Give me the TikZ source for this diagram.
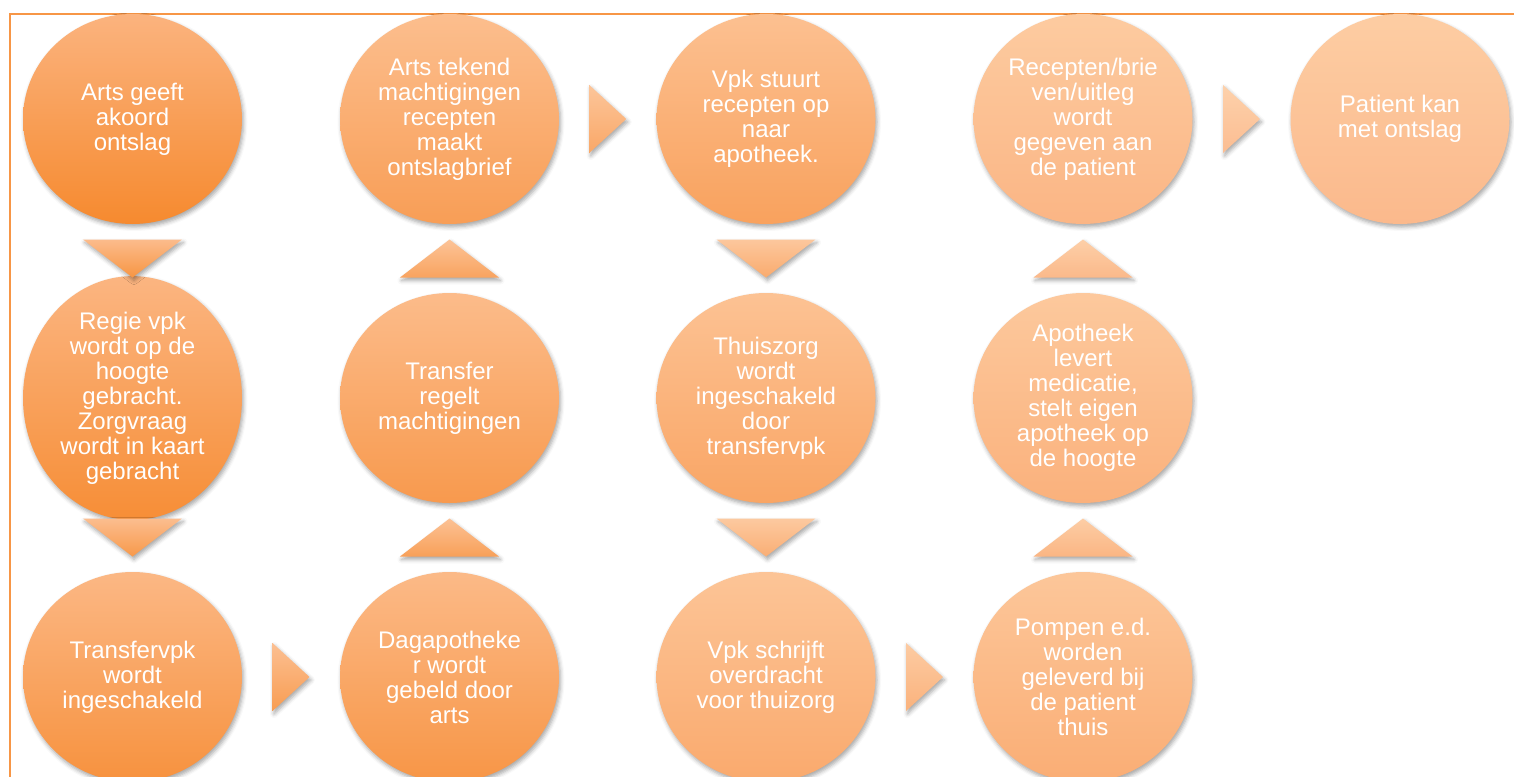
\documentclass[tikz,border=0pt]{standalone}
\usepackage{fontspec}
\setmainfont{Liberation Sans}
\usetikzlibrary{shapes.geometric,calc,shadows.blur}

% orange palette: A = darkest step, B = lightest step
\definecolor{framecol}{HTML}{F79646}
\definecolor{topA}{HTML}{FBB37E}
\definecolor{topB}{HTML}{FDCDA3}
\definecolor{botA}{HTML}{F68A2F}
\definecolor{botB}{HTML}{FBB98C}

\tikzset{
  softshadow/.style={blur shadow={shadow xshift=1.5pt, shadow yshift=-3pt,
      shadow blur radius=4pt, shadow opacity=35}},
  stepcircle/.style={ellipse, minimum width=219pt, minimum height=210pt,
      inner sep=0pt, draw=none, top color=topA!#1!topB,
      bottom color=botA!#1!botB, softshadow, text=white, align=center,
      font=\fontsize{24}{25}\selectfont},
  flowtri/.style={draw=none, top color=topA!#1!topB!90!white,
      bottom color=botA!#1!botB!92!white, softshadow},
}

% triangular flow markers placed halfway between two steps
\newcommand{\flowdown}[3]{\path[flowtri=#3] ($(#1)!.5!(#2)$) ++(-49.5,-19) -- ++(99,0) -- ++(-49.5,38) -- cycle;}
\newcommand{\flowup}[3]{\path[flowtri=#3] ($(#1)!.5!(#2)$) ++(-49.5,19) -- ++(99,0) -- ++(-49.5,-38) -- cycle;}
\newcommand{\flowright}[3]{\path[flowtri=#3] ($(#1)!.5!(#2)$) ++(-18.5,-34) -- ++(0,68) -- ++(37,-34) -- cycle;}

\begin{document}
\begin{tikzpicture}[x=1pt,y=-1pt]
\useasboundingbox (0,0) rectangle (1514,776);

% outer frame (top and left edges)
\draw[framecol, line width=2pt] (10,777) -- (10,14) -- (1514,14);

% process steps
\node[stepcircle=100] (s1)  at (132.5,119) {Arts geeft\\akoord\\ontslag};
\node[stepcircle=92]  (s2)  at (132.5,398) {Regie vpk\\wordt op de\\hoogte\\gebracht.\\Zorgvraag\\wordt in kaart\\gebracht};
\node[stepcircle=83]  (s3)  at (132.5,677) {Transfervpk\\wordt\\ingeschakeld};
\node[stepcircle=75]  (s4)  at (449.5,677) {Dagapotheke\\r wordt\\gebeld door\\arts};
\node[stepcircle=67]  (s5)  at (449.5,398) {Transfer\\regelt\\machtigingen};
\node[stepcircle=58]  (s6)  at (449.5,119) {Arts tekend\\machtigingen\\recepten\\maakt\\ontslagbrief};
\node[stepcircle=50]  (s7)  at (766,119)   {Vpk stuurt\\recepten op\\naar\\apotheek.};
\node[stepcircle=42]  (s8)  at (766,398)   {Thuiszorg\\wordt\\ingeschakeld\\door\\transfervpk};
\node[stepcircle=33]  (s9)  at (766,677)   {Vpk schrijft\\overdracht\\voor thuizorg};
\node[stepcircle=25]  (s10) at (1083,677)  {Pompen e.d.\\worden\\geleverd bij\\de patient\\thuis};
\node[stepcircle=17]  (s11) at (1083,398)  {Apotheek\\levert\\medicatie,\\stelt eigen\\apotheek op\\de hoogte};
\node[stepcircle=8]   (s12) at (1083,119)  {Recepten/brie\\ven/uitleg\\wordt\\gegeven aan\\de patient};
\node[stepcircle=0]   (s13) at (1400,119)  {Patient kan\\met ontslag};

% flow markers
\flowdown{s1}{s2}{96}
\flowdown{s2}{s3}{88}
\flowright{s3}{s4}{79}
\flowup{s4}{s5}{71}
\flowup{s5}{s6}{63}
\flowright{s6}{s7}{54}
\flowdown{s7}{s8}{46}
\flowdown{s8}{s9}{38}
\flowright{s9}{s10}{29}
\flowup{s10}{s11}{21}
\flowup{s11}{s12}{13}
\flowright{s12}{s13}{4}
\end{tikzpicture}
\end{document}
